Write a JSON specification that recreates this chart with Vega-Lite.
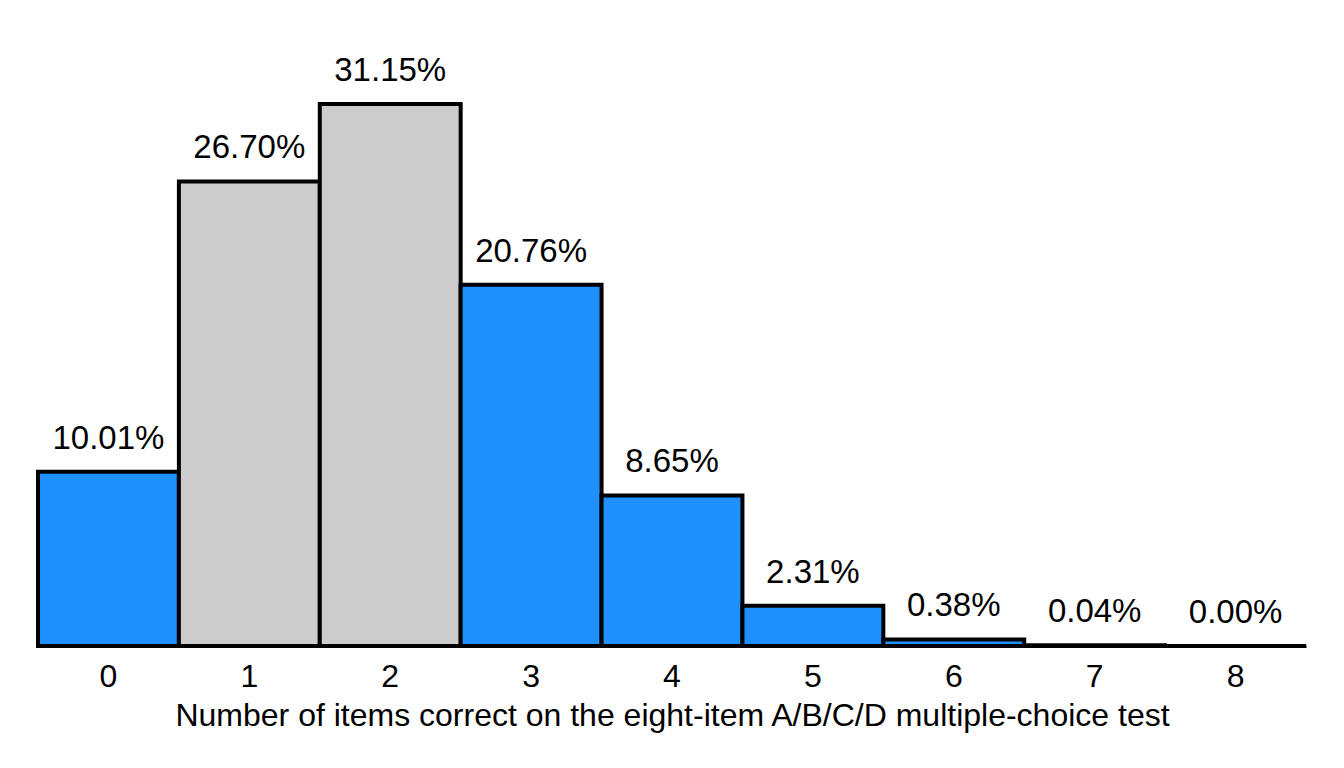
{
  "$schema": "https://vega.github.io/schema/vega-lite/v6.json",
  "width": 1268,
  "height": 605,
  "padding": {"left": 36, "top": 41, "right": 36, "bottom": 20},
  "background": "white",
  "config": {
    "view": {"stroke": null},
    "font": "Liberation Sans"
  },
  "data": {
    "values": [
      {"items": "0", "pct": 10.01, "label": "10.01%", "group": "other"},
      {"items": "1", "pct": 26.70, "label": "26.70%", "group": "highlight"},
      {"items": "2", "pct": 31.15, "label": "31.15%", "group": "highlight"},
      {"items": "3", "pct": 20.76, "label": "20.76%", "group": "other"},
      {"items": "4", "pct": 8.65, "label": "8.65%", "group": "other"},
      {"items": "5", "pct": 2.31, "label": "2.31%", "group": "other"},
      {"items": "6", "pct": 0.38, "label": "0.38%", "group": "other"},
      {"items": "7", "pct": 0.04, "label": "0.04%", "group": "other"},
      {"items": "8", "pct": 0.00, "label": "0.00%", "group": "other"}
    ]
  },
  "encoding": {
    "x": {
      "field": "items",
      "type": "ordinal",
      "sort": null,
      "scale": {"paddingInner": 0, "paddingOuter": 0},
      "title": "Number of items correct on the eight-item A/B/C/D multiple-choice test",
      "axis": {
        "labelAngle": 0,
        "ticks": false,
        "domainColor": "black",
        "domainWidth": 3,
        "labelFontSize": 32,
        "labelColor": "black",
        "labelPadding": 15,
        "titleFontSize": 32,
        "titleFontWeight": "normal",
        "titleColor": "black",
        "titlePadding": 8
      }
    },
    "y": {
      "field": "pct",
      "type": "quantitative",
      "scale": {"domain": [0, 34.77]},
      "axis": null
    }
  },
  "layer": [
    {
      "mark": {"type": "bar", "stroke": "black", "strokeWidth": 4},
      "encoding": {
        "color": {
          "field": "group",
          "type": "nominal",
          "scale": {"domain": ["other", "highlight"], "range": ["#1E90FF", "#CCCCCC"]},
          "legend": null
        }
      }
    },
    {
      "mark": {"type": "text", "baseline": "alphabetic", "dy": -23, "fontSize": 33, "color": "black"},
      "encoding": {
        "text": {"field": "label"}
      }
    }
  ]
}
